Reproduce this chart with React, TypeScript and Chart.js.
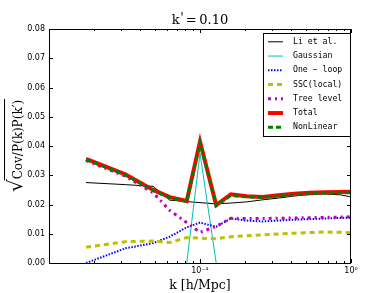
import { useEffect, useRef } from 'react';
import { Chart, registerables } from 'chart.js';
Chart.register(...registerables);

const kValues = [0.0176, 0.032, 0.049, 0.063, 0.0817, 0.1, 0.128, 0.16, 0.204, 0.26, 0.33, 0.42, 0.53, 0.67, 0.85, 1.0];
const liEtAl = [0.0275, 0.0268, 0.0262, 0.0215, 0.021, null, 0.0202, 0.0205, 0.0209, 0.0216, 0.0222, 0.0229, 0.0234, 0.0236, 0.0233, 0.0226];
const gaussian = [null, null, null, null, 0.0, 0.0375, 0.0, null, null, null, null, null, null, null, null, null];
const oneLoop = [0.0, 0.005, 0.0068, 0.009, 0.0122, 0.0138, 0.0124, 0.0152, 0.0145, 0.0142, 0.0145, 0.0148, 0.015, 0.0152, 0.0154, 0.0155];
const sscLocal = [0.0054, 0.0073, 0.0075, 0.007, 0.0087, 0.0085, 0.0083, 0.009, 0.0093, 0.0096, 0.0099, 0.0102, 0.0104, 0.0106, 0.0105, 0.0103];
const treeLevel = [0.035, 0.0297, 0.024, 0.018, 0.0138, 0.0105, 0.0125, 0.0153, 0.0152, 0.0152, 0.0153, 0.0154, 0.0155, 0.0156, 0.0157, 0.0158];
const total = [0.0356, 0.0303, 0.025, 0.0225, 0.0212, 0.0415, 0.0198, 0.0235, 0.0228, 0.0226, 0.0232, 0.0237, 0.024, 0.0242, 0.0243, 0.0244];
const nonLinear = [0.0354, 0.0301, 0.0248, 0.0223, 0.021, 0.0412, 0.0196, 0.0231, 0.0226, 0.0224, 0.0229, 0.0234, 0.0237, 0.0239, 0.024, 0.024];
const yTicks = [0, 0.01, 0.02, 0.03, 0.04, 0.05, 0.06, 0.07, 0.08];

const seriesDefs = [
  { label: 'Li et al.', data: liEtAl, color: '#000000', width: 1, dash: [] as number[] },
  { label: 'Gaussian', data: gaussian, color: '#00bfbf', width: 1, dash: [] as number[] },
  { label: 'One \u2212 loop', data: oneLoop, color: '#0000ff', width: 2, dash: [1.5, 1.5] },
  { label: 'SSC(local)', data: sscLocal, color: '#bfbf00', width: 3, dash: [5, 4] },
  { label: 'Tree level', data: treeLevel, color: '#bf00bf', width: 3, dash: [3, 4, 2, 4] },
  { label: 'Total', data: total, color: '#ff0000', width: 4, dash: [] as number[] },
  { label: 'NonLinear', data: nonLinear, color: '#008000', width: 3, dash: [5, 3] },
];

const overlay = {
  id: 'overlay',
  afterDraw(chart: any) {
    const { ctx, chartArea: a, scales } = chart;
    const xs = scales.x;
    const ys = scales.y;
    ctx.save();
    ctx.strokeStyle = '#000';
    ctx.lineWidth = 1;
    ctx.setLineDash([]);
    ctx.beginPath();
    yTicks.forEach((v) => {
      const py = Math.round(ys.getPixelForValue(v)) + 0.5;
      ctx.moveTo(a.left, py); ctx.lineTo(a.left + 4, py);
      ctx.moveTo(a.right, py); ctx.lineTo(a.right - 4, py);
    });
    [0.01, 0.1].forEach((dec) => {
      for (let m = 1; m <= 10; m++) {
        const v = dec * m;
        const px = Math.round(xs.getPixelForValue(v)) + 0.5;
        const len = m === 1 || m === 10 ? 4 : 2;
        ctx.moveTo(px, a.bottom); ctx.lineTo(px, a.bottom - len);
        ctx.moveTo(px, a.top); ctx.lineTo(px, a.top + len);
      }
    });
    ctx.stroke();
    ctx.strokeRect(a.left + 0.5, a.top + 0.5, a.right - a.left - 1, a.bottom - a.top);

    // title
    const cx = (a.left + a.right) / 2;
    ctx.fillStyle = '#000';
    ctx.textBaseline = 'alphabetic';
    ctx.textAlign = 'left';
    ctx.font = '13px "DejaVu Serif"';
    const tk = 'k';
    const tp = '\'';
    const tr = '\u2009=\u20090.10';
    const wk = ctx.measureText(tk).width;
    const wp = ctx.measureText(tp).width;
    const wr2 = ctx.measureText(tr).width;
    const tx = cx - (wk + wp + wr2) / 2;
    ctx.fillText(tk, tx, 24);
    ctx.fillText(tp, tx + wk + 0.5, 22);
    ctx.fillText(tr, tx + wk + wp, 24);

    // x label
    ctx.textAlign = 'center';
    ctx.textBaseline = 'middle';
    ctx.font = '12.5px "DejaVu Serif"';
    ctx.fillText('k [h/Mpc]', cx, 286);

    // y label
    ctx.save();
    ctx.translate(19, (a.top + a.bottom) / 2);
    ctx.rotate(-Math.PI / 2);
    ctx.textAlign = 'left';
    ctx.textBaseline = 'middle';
    const rad = '\u221A';
    const body = 'Cov/P(k)P(k\u2032)';
    ctx.font = '20px "DejaVu Serif"';
    const wr = ctx.measureText(rad).width;
    ctx.font = '12px "DejaVu Serif"';
    const wb = ctx.measureText(body).width;
    const x0 = -(wr + wb) / 2;
    ctx.font = '20px "DejaVu Serif"';
    ctx.fillText(rad, x0, -2);
    ctx.font = '12px "DejaVu Serif"';
    ctx.fillText(body, x0 + wr, 0);
    ctx.beginPath();
    ctx.lineWidth = 1;
    ctx.moveTo(x0 + wr - 1, -14.5);
    ctx.lineTo(x0 + wr + wb + 1, -14.5);
    ctx.stroke();
    ctx.restore();

    // legend
    const lx = 263, ly = 33, lw = 87, lh = 103;
    ctx.fillStyle = '#fff';
    ctx.fillRect(lx, ly, lw, lh);
    ctx.strokeStyle = '#000';
    ctx.lineWidth = 1;
    ctx.strokeRect(lx + 0.5, ly + 0.5, lw, lh);
    ctx.font = '8.2px "DejaVu Sans Mono"';
    ctx.textAlign = 'left';
    ctx.textBaseline = 'middle';
    seriesDefs.forEach((s, i) => {
      const yy = 41.8 + i * 14.25;
      ctx.beginPath();
      ctx.strokeStyle = s.color;
      ctx.lineWidth = s.width;
      ctx.setLineDash(s.dash);
      ctx.moveTo(268, yy);
      ctx.lineTo(283, yy);
      ctx.stroke();
      ctx.setLineDash([]);
      ctx.fillStyle = '#000';
      ctx.fillText(s.label, 293, yy);
    });
    ctx.restore();
  },
};

export default function App() {
  const ref = useRef<HTMLCanvasElement>(null);
  useEffect(() => {
    document.body.style.margin = '0';
    const chart = new Chart(ref.current!, {
      type: 'line',
      data: {
        datasets: seriesDefs.map((s, i) => ({
          label: s.label,
          data: kValues.map((k, j) => ({ x: k, y: s.data[j] })),
          borderColor: s.color,
          backgroundColor: s.color,
          borderWidth: s.width,
          borderDash: s.dash,
          pointRadius: 0,
          tension: 0,
          fill: false,
          spanGaps: i === 0,
          order: seriesDefs.length - i,
        })),
      },
      options: {
        responsive: false,
        animation: false,
        events: [],
        layout: { padding: { left: 0, top: 29, right: 39, bottom: 0 } },
        plugins: { legend: { display: false }, title: { display: false }, tooltip: { enabled: false } },
        scales: {
          x: {
            type: 'logarithmic',
            min: 0.01,
            max: 1,
            grid: { display: false, drawTicks: false },
            border: { display: false },
            afterFit: (s: any) => { s.height = 30; },
            ticks: {
              autoSkip: false,
              maxRotation: 0,
              padding: 3,
              color: '#000',
              font: { family: 'DejaVu Sans', size: 8 },
              callback: (v: any) => {
                const val = Number(v);
                if (Math.abs(val - 0.1) < 1e-9) return '10\u207B\u00B9';
                if (Math.abs(val - 1) < 1e-9) return '10\u2070';
                return '';
              },
            },
          },
          y: {
            min: 0,
            max: 0.08,
            grid: { display: false, drawTicks: false },
            border: { display: false },
            afterFit: (s: any) => { s.width = 49; },
            ticks: {
              stepSize: 0.01,
              padding: 4,
              color: '#000',
              font: { family: 'DejaVu Sans', size: 8 },
              callback: (v: any) => Number(v).toFixed(2),
            },
          },
        },
      },
      plugins: [overlay],
    });
    return () => chart.destroy();
  }, []);
  return (
    <div style={{ position: 'absolute', left: 0, top: 0, width: 390, height: 293 }}>
      <canvas ref={ref} width={390} height={293} />
    </div>
  );
}
